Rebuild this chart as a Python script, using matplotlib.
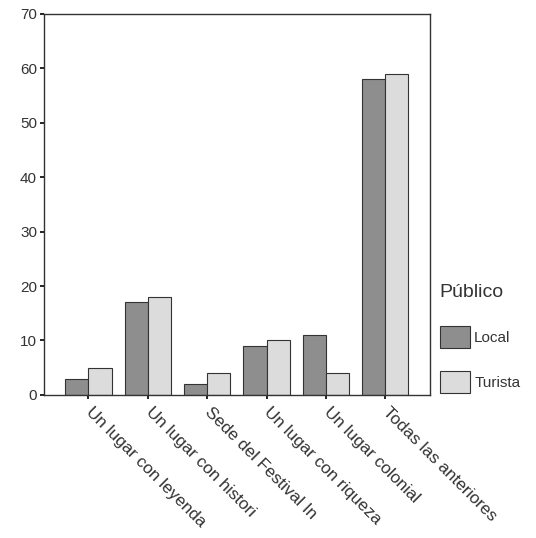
import matplotlib
matplotlib.use("Agg")
import matplotlib.pyplot as plt
import numpy as np

plt.rcParams['font.family'] = ['Liberation Sans', 'DejaVu Sans']

categories = ["Un lugar con leyenda", "Un lugar con histori", "Sede del Festival In",
              "Un lugar con riqueza", "Un lugar colonial", "Todas las anteriores"]
local = [3, 17, 2, 9, 11, 58]
turista = [5, 18, 4, 10, 4, 59]
series_names = ["Local", "Turista"]
yticks = [0, 10, 20, 30, 40, 50, 60, 70]

fig = plt.figure(figsize=(5.36, 5.38), dpi=100)
ax = fig.add_axes([0.082, 0.266, 0.72, 0.708])

x = np.arange(len(categories))
w = 0.39
ax.bar(x - w/2, local, w, color='#8e8e8e', edgecolor='#333333', linewidth=0.8, label=series_names[0])
ax.bar(x + w/2, turista, w, color='#dcdcdc', edgecolor='#333333', linewidth=0.8, label=series_names[1])

ax.set_xlim(-0.75, 5.75)
ax.set_ylim(0, 70)
ax.set_yticks(yticks)
ax.set_xticks(x)
ax.set_xticklabels(categories, rotation=-45, ha='left', va='center', rotation_mode='anchor',
                   fontsize=12.3, color='#333333')
ax.tick_params(axis='y', labelsize=11, labelcolor='#333333', length=3, width=1.2, pad=2)
ax.tick_params(axis='x', length=3, width=1.2, pad=8)
for s in ax.spines.values():
    s.set_color('#333333')
    s.set_linewidth(1.0)

leg = ax.legend(loc='center left', bbox_to_anchor=(0.99, 0.148), frameon=False,
                title='Público', fontsize=11, title_fontsize=14,
                handlelength=2.0, handleheight=1.85, labelspacing=1.5, handletextpad=0.25,
                borderaxespad=0.5)
leg._legend_box.align = 'left'
leg._legend_box.sep = 18
for t in leg.get_texts():
    t.set_color('#333333')
leg.get_title().set_color('#333333')

fig.savefig('out.png', dpi=100)
